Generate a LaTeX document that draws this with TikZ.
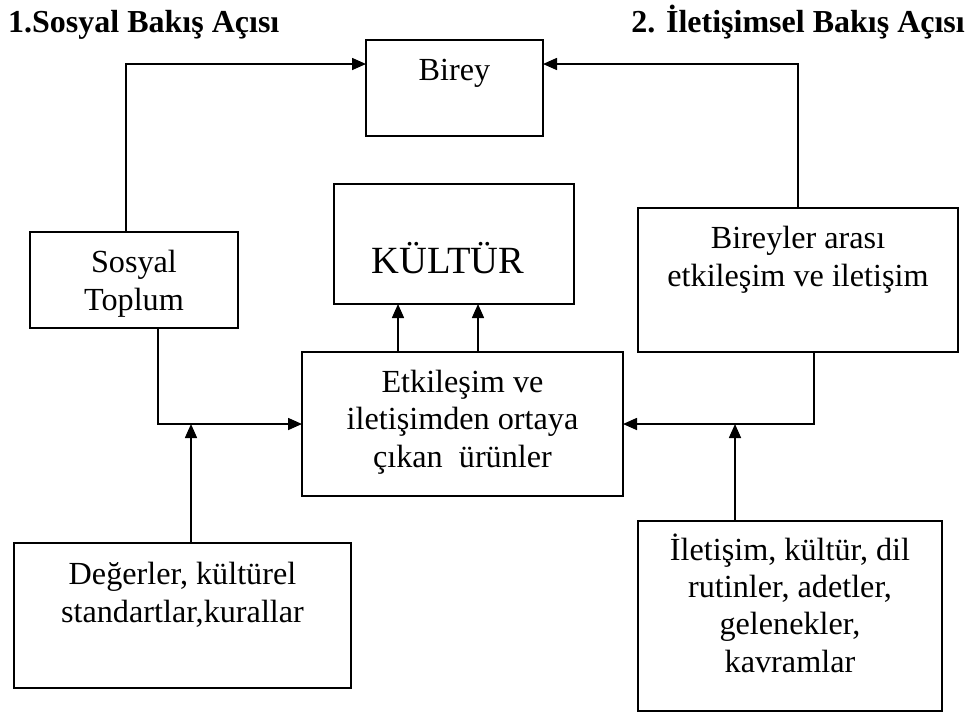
\documentclass[tikz,border=0pt]{standalone}
\usepackage{fontspec}
\setmainfont{Liberation Serif}
\usetikzlibrary{arrows.meta,calc}
\begin{document}
\begin{tikzpicture}[x=1pt,y=-1pt,
  box/.style={draw,line width=1.6pt,rectangle,inner sep=0pt,outer sep=0pt},
  arr/.style={line width=1.6pt,-{Triangle[length=14pt,width=12pt]}},
  txt/.style={inner sep=0pt,align=center,anchor=base,font=\fontsize{32.2}{37.3}\selectfont},
  head/.style={inner sep=0pt,font=\fontsize{32}{37}\selectfont\bfseries}]
\useasboundingbox[fill=white] (0,0) rectangle (975,713);
% boxes
\node[box,minimum width=177pt,minimum height=96pt] (birey) at (454.5,88) {};
\node[box,minimum width=240pt,minimum height=120pt] (kultur) at (454,244) {};
\node[box,minimum width=208pt,minimum height=96pt] (st) at (134,280) {};
\node[box,minimum width=320pt,minimum height=144pt] (bir) at (798,280) {};
\node[box,minimum width=321pt,minimum height=144pt] (etk) at (462.5,424) {};
\node[box,minimum width=337pt,minimum height=145pt] (deg) at (182.5,615.5) {};
\node[box,minimum width=304pt,minimum height=190pt] (ilet) at (790,616) {};
% texts (base = baseline of last line)
\node[head,anchor=base west] (h1) at (8,32) {1.Sosyal Bakış Açısı};
\node[head,anchor=base east] (h2) at (965,32) {2. İletişimsel Bakış Açısı};
\node[txt] (tbirey) at (454.5,80) {Birey};
\node[txt,font=\fontsize{38.5}{44}\selectfont] (tkultur) at (448,273) {KÜLTÜR};
\node[txt] (tst) at (134,310) {Sosyal\\Toplum};
\node[txt] (tbir) at (798,286) {Bireyler arası\\etkileşim ve iletişim};
\node[txt] (tetk) at (462.5,467) {Etkileşim ve\\iletişimden ortaya\\çıkan\ \ ürünler};
\node[txt] (tdeg) at (182.5,622) {Değerler, kültürel\\standartlar,kurallar};
\node[txt] (tilet) at (790,672) {İletişim, kültür, dil\\rutinler, adetler,\\gelenekler,\\kavramlar};
% junctions
\coordinate (jl) at (191,424);
\coordinate (jr) at (735,424);
% connectors
\draw[arr] ($(st.north)+(-8,0)$) |- ($(birey.north west)+(0,24)$);
\draw[arr] (bir.north) |- ($(birey.north east)+(0,24)$);
\draw[arr] ($(st.south)+(24,0)$) |- (etk.west);
\draw[arr] ($(bir.south)+(16,0)$) |- (etk.east);
\draw[arr] (jl |- deg.north) -- (jl);
\draw[arr] (jr |- ilet.north) -- (jr);
\draw[arr] ($(etk.north)+(-64.5,0)$) coordinate (k1) -- (k1 |- kultur.south);
\draw[arr] ($(etk.north)+(15.5,0)$) coordinate (k2) -- (k2 |- kultur.south);
\end{tikzpicture}
\end{document}
